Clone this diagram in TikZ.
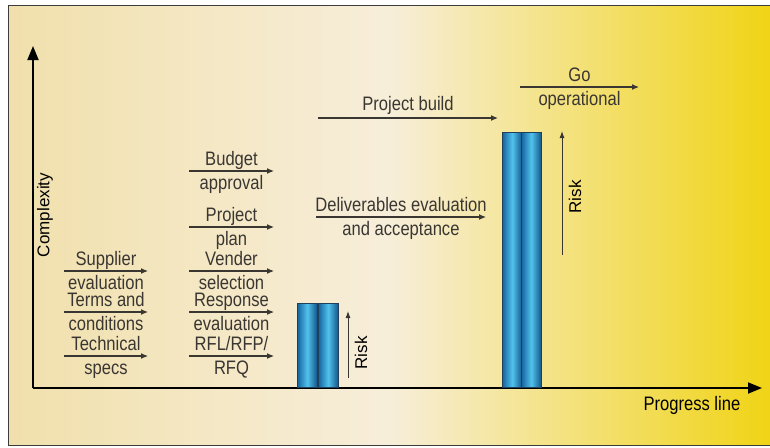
\documentclass[tikz,border=0pt]{standalone}
\usepackage{fontspec}
\setmainfont{Liberation Sans}[FakeStretch=0.85]
\newfontfamily\widefont{Liberation Sans}
\usepackage{tikz}
\usetikzlibrary{arrows.meta,positioning,calc}
\definecolor{bgleft}{HTML}{F1E0AC}
\definecolor{bgmid}{HTML}{F7EEDA}
\definecolor{bgright}{HTML}{F0D416}
\definecolor{framegray}{HTML}{3C3C3C}
\definecolor{arrowgray}{HTML}{3A3632}
\definecolor{bardark}{HTML}{1463A0}
\definecolor{barlight}{HTML}{52C2EC}
\definecolor{barline}{HTML}{1F3F5A}

\tikzset{
  phase/.style={-{Latex[length=7pt,width=6pt]},line width=1.1pt,arrowgray},
  risk/.style={-{Latex[length=7pt,width=5pt]},line width=0.9pt,arrowgray},
  axis/.style={-{Triangle[length=14pt,width=11pt]},line width=1.8pt,black},
  lbl/.style={inner sep=0.5pt,text height=14pt,text depth=3pt,font=\fontsize{19.5}{21}\selectfont},
  vlbl/.style={inner sep=0pt,font=\widefont\fontsize{17}{18}\selectfont},
  tube/.style={draw=barline,line width=0.6pt,minimum width=20pt,inner sep=0pt,
    anchor=south west,left color=bardark,right color=bardark!85!black,middle color=barlight},
}

\begin{document}
\begin{tikzpicture}[x=1pt,y=-1pt]
  \useasboundingbox (0,0) rectangle (770,447);
  \fill[white] (0,0) rectangle (770,447);
  \shade[left color=bgleft,right color=bgright,middle color=bgmid] (8,5) rectangle (770,445);
  \draw[framegray,line width=1pt] (770,5) -- (8,5) -- (8,445) -- (770,445);

  % axes
  \coordinate (origin) at (33,388);
  \coordinate (ytop) at (33,46);
  \coordinate (xend) at (762,388);
  \draw[axis] (origin) -- (ytop);
  \draw[axis] (origin) -- (xend);
  \node[vlbl,rotate=90] (complexity) at (45,215) {Complexity};
  \node[lbl,anchor=east] (progress) at (741,405) {Progress line};

  % first column
  \coordinate (s1a) at (64,271);  \coordinate (s1b) at (148,271);
  \coordinate (t1a) at (64,312);  \coordinate (t1b) at (148,312);
  \coordinate (c1a) at (64,356);  \coordinate (c1b) at (148,356);
  \draw[phase] (s1a) -- node[lbl,above=1pt]{Supplier} node[lbl,below=3pt]{evaluation} (s1b);
  \draw[phase] (t1a) -- node[lbl,above=1pt]{Terms and} node[lbl,below=3pt]{conditions} (t1b);
  \draw[phase] (c1a) -- node[lbl,above=1pt]{Technical} node[lbl,below=3pt]{specs} (c1b);

  % second column
  \coordinate (b2a) at (189,171); \coordinate (b2b) at (274,171);
  \coordinate (p2a) at (189,227); \coordinate (p2b) at (274,227);
  \coordinate (v2a) at (189,271); \coordinate (v2b) at (274,271);
  \coordinate (r2a) at (189,312); \coordinate (r2b) at (274,312);
  \coordinate (q2a) at (189,356); \coordinate (q2b) at (274,356);
  \draw[phase] (b2a) -- node[lbl,above=1pt]{Budget} node[lbl,below=3pt]{approval} (b2b);
  \draw[phase] (p2a) -- node[lbl,above=1pt]{Project} node[lbl,below=3pt]{plan} (p2b);
  \draw[phase] (v2a) -- node[lbl,above=1pt]{Vender} node[lbl,below=3pt]{selection} (v2b);
  \draw[phase] (r2a) -- node[lbl,above=1pt]{Response} node[lbl,below=3pt]{evaluation} (r2b);
  \draw[phase] (q2a) -- node[lbl,above=1pt]{RFL/RFP/} node[lbl,below=3pt]{RFQ} (q2b);

  % small tubes
  \node[tube,minimum height=84pt] (smallA) at (297,388) {};
  \node[tube,minimum height=84pt] (smallB) at (318,388) {};
  \coordinate (rs0) at (348,378); \coordinate (rs1) at (348,311);
  \draw[risk] (rs0) -- (rs1);
  \node[vlbl,rotate=90] (risksmall) at (361,353) {Risk};

  % later phases
  \coordinate (dla) at (316,217); \coordinate (dlb) at (486,217);
  \coordinate (pba) at (318,118); \coordinate (pbb) at (498,118);
  \coordinate (goa) at (520,87);  \coordinate (gob) at (639,87);
  \draw[phase] (dla) -- node[lbl,above=1pt]{Deliverables evaluation} node[lbl,below=3pt]{and acceptance} (dlb);
  \draw[phase] (pba) -- node[lbl,above=3pt]{Project build} (pbb);
  \draw[phase] (goa) -- node[lbl,above=1pt]{Go} node[lbl,below=3pt]{operational} (gob);

  % tall tubes
  \node[tube,minimum height=255pt] (tallA) at (502,388) {};
  \node[tube,minimum height=255pt] (tallB) at (521,388) {};
  \coordinate (rt0) at (562,255); \coordinate (rt1) at (562,131);
  \draw[risk] (rt0) -- (rt1);
  \node[vlbl,rotate=90] (risktall) at (575,197) {Risk};
\end{tikzpicture}
\end{document}
